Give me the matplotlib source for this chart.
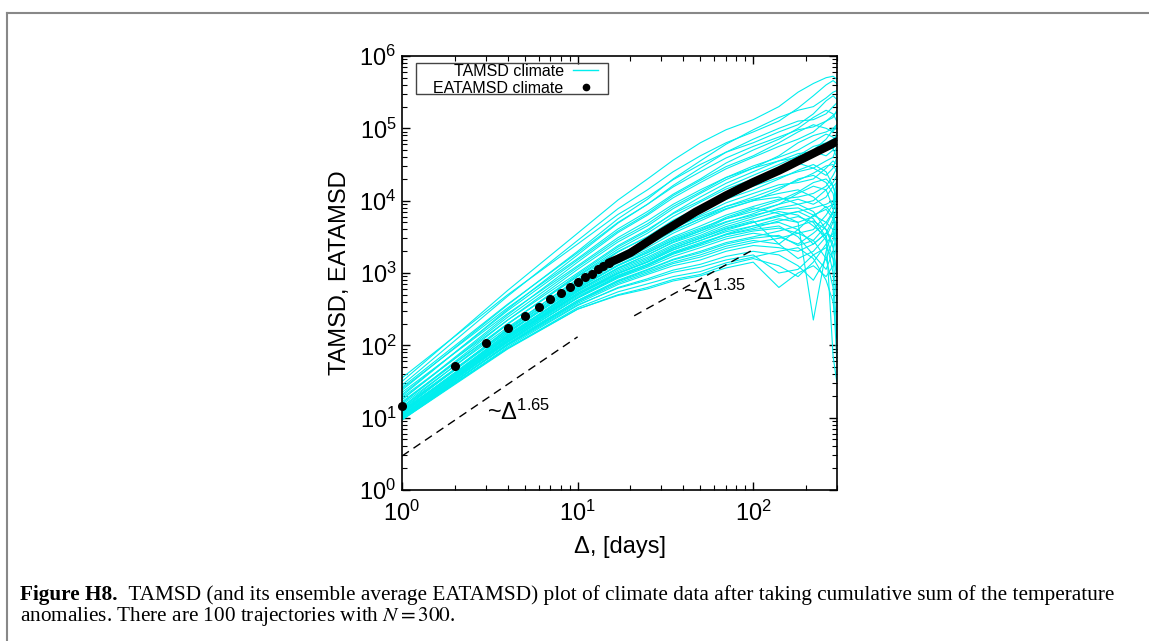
import numpy as np
import matplotlib.pyplot as plt
from matplotlib.lines import Line2D
from matplotlib.patches import Rectangle

plt.rcParams['font.family'] = ['Liberation Sans', 'DejaVu Sans']
plt.rcParams['mathtext.fontset'] = 'custom'
plt.rcParams['mathtext.rm'] = 'Liberation Sans'
plt.rcParams['mathtext.it'] = 'Liberation Sans:italic'
plt.rcParams['mathtext.bf'] = 'Liberation Sans:bold'

tamsd_lags = [1, 4, 10, 17, 25, 35, 50, 70, 100, 140, 180, 220, 260, 285, 299]
# log10(TAMSD), one row per trajectory
tamsd_log10 = [
    [1.50, 2.76, 3.55, 4.01, 4.30, 4.56, 4.80, 4.98, 5.12, 5.30, 5.50, 5.62, 5.70, 5.72, 5.68],
    [1.45, 2.68, 3.45, 3.89, 4.15, 4.40, 4.62, 4.80, 4.95, 5.10, 5.28, 5.45, 5.60, 5.66, 5.62],
    [1.38, 2.56, 3.30, 3.75, 4.02, 4.30, 4.55, 4.78, 4.98, 5.15, 5.25, 5.30, 5.42, 5.50, 5.52],
    [1.55, 2.70, 3.40, 3.81, 4.05, 4.29, 4.50, 4.67, 4.80, 4.95, 5.05, 5.20, 5.38, 5.45, 5.40],
    [1.30, 2.50, 3.25, 3.69, 3.95, 4.21, 4.45, 4.67, 4.85, 5.00, 5.10, 5.12, 5.20, 5.30, 5.35],
    [1.40, 2.52, 3.20, 3.61, 3.85, 4.09, 4.30, 4.52, 4.70, 4.85, 5.00, 5.15, 5.25, 5.20, 5.10],
    [1.25, 2.42, 3.15, 3.56, 3.80, 4.04, 4.25, 4.44, 4.60, 4.75, 4.85, 4.95, 5.10, 5.18, 5.22],
    [1.35, 2.44, 3.10, 3.49, 3.72, 3.95, 4.15, 4.32, 4.45, 4.62, 4.80, 4.90, 4.95, 5.00, 5.05],
    [1.20, 2.35, 3.05, 3.43, 3.65, 3.89, 4.10, 4.29, 4.45, 4.55, 4.60, 4.70, 4.85, 4.98, 5.00],
    [1.28, 2.35, 3.00, 3.38, 3.60, 3.82, 4.00, 4.19, 4.35, 4.50, 4.62, 4.75, 4.80, 4.85, 4.90],
    [1.15, 2.29, 2.98, 3.36, 3.58, 3.83, 4.05, 4.24, 4.40, 4.55, 4.65, 4.68, 4.62, 4.70, 4.95],
    [1.22, 2.30, 2.95, 3.30, 3.50, 3.73, 3.92, 4.10, 4.25, 4.40, 4.55, 4.68, 4.75, 4.72, 4.60],
    [1.10, 2.23, 2.92, 3.29, 3.50, 3.72, 3.90, 4.07, 4.20, 4.32, 4.40, 4.45, 4.55, 4.60, 4.75],
    [1.18, 2.25, 2.90, 3.25, 3.45, 3.67, 3.85, 4.02, 4.15, 4.30, 4.42, 4.50, 4.40, 4.20, 4.00],
    [1.05, 2.17, 2.85, 3.20, 3.40, 3.62, 3.80, 3.97, 4.10, 4.22, 4.25, 4.30, 4.45, 4.55, 4.50],
    [1.12, 2.22, 2.88, 3.22, 3.42, 3.62, 3.78, 3.92, 4.02, 4.10, 4.15, 4.05, 3.90, 3.95, 4.30],
    [1.00, 2.12, 2.80, 3.15, 3.35, 3.55, 3.72, 3.88, 4.00, 4.15, 4.30, 4.35, 4.25, 4.10, 3.80],
    [1.08, 2.17, 2.82, 3.14, 3.32, 3.50, 3.65, 3.80, 3.92, 4.02, 4.05, 4.10, 4.20, 4.35, 4.45],
    [1.02, 2.13, 2.78, 3.11, 3.30, 3.48, 3.62, 3.75, 3.85, 3.95, 4.10, 4.20, 4.15, 3.90, 3.50],
    [1.15, 2.19, 2.80, 3.11, 3.28, 3.45, 3.58, 3.71, 3.80, 3.88, 3.90, 3.80, 3.70, 3.85, 4.10],
    [0.98, 2.09, 2.75, 3.07, 3.25, 3.42, 3.55, 3.70, 3.82, 3.95, 4.02, 3.95, 4.05, 4.20, 4.25],
    [1.06, 2.12, 2.74, 3.04, 3.20, 3.37, 3.50, 3.64, 3.75, 3.85, 3.80, 3.65, 3.50, 3.20, 2.60],
    [1.03, 2.09, 2.72, 3.02, 3.18, 3.35, 3.48, 3.61, 3.70, 3.78, 3.85, 3.90, 3.95, 4.00, 4.05],
    [0.99, 2.07, 2.70, 2.99, 3.15, 3.32, 3.45, 3.57, 3.65, 3.70, 3.60, 3.40, 3.55, 3.75, 3.90],
    [1.10, 2.11, 2.70, 2.97, 3.12, 3.28, 3.40, 3.53, 3.62, 3.72, 3.78, 3.70, 3.45, 3.00, 2.20],
    [1.00, 2.05, 2.66, 2.94, 3.10, 3.26, 3.38, 3.50, 3.58, 3.62, 3.55, 3.60, 3.80, 3.95, 4.15],
    [1.04, 2.06, 2.65, 2.93, 3.08, 3.23, 3.35, 3.47, 3.55, 3.50, 3.40, 3.55, 3.70, 3.60, 3.30],
    [0.97, 2.02, 2.62, 2.90, 3.05, 3.19, 3.30, 3.42, 3.50, 3.58, 3.65, 3.72, 3.60, 3.40, 3.00],
    [1.02, 2.04, 2.62, 2.88, 3.02, 3.15, 3.25, 3.37, 3.45, 3.40, 3.20, 3.30, 3.50, 3.70, 3.85],
    [0.98, 2.01, 2.60, 2.86, 3.00, 3.13, 3.22, 3.34, 3.42, 3.48, 3.55, 3.45, 3.20, 2.80, 1.80],
    [1.00, 2.01, 2.58, 2.84, 2.98, 3.10, 3.18, 3.30, 3.38, 3.35, 3.30, 3.40, 3.55, 3.50, 3.60],
    [0.97, 1.98, 2.55, 2.80, 2.92, 3.04, 3.12, 3.23, 3.30, 3.25, 3.10, 2.90, 3.20, 3.45, 3.70],
    [1.01, 2.00, 2.56, 2.79, 2.90, 3.01, 3.08, 3.18, 3.25, 3.00, 3.05, 3.25, 3.35, 3.20, 3.00],
    [0.98, 1.96, 2.52, 2.74, 2.85, 2.95, 3.02, 3.14, 3.22, 3.30, 3.35, 3.20, 2.90, 2.60, 2.10],
    [1.00, 1.96, 2.50, 2.70, 2.80, 2.91, 2.98, 3.11, 3.20, 3.10, 2.95, 3.15, 3.40, 3.55, 3.50],
    [0.97, 1.95, 2.50, 2.69, 2.78, 2.89, 2.96, 3.07, 3.15, 2.80, 3.00, 3.10, 2.95, 3.10, 3.40],
    [1.08, 2.14, 2.76, 3.06, 3.22, 3.39, 3.52, 3.67, 3.78, 3.90, 3.95, 3.85, 3.60, 3.35, 2.95],
    [1.12, 2.19, 2.84, 3.18, 3.38, 3.58, 3.75, 3.92, 4.05, 4.18, 4.28, 4.38, 4.48, 4.50, 4.40],
    [1.03, 2.07, 2.68, 2.95, 3.10, 3.27, 3.40, 3.54, 3.65, 3.75, 3.70, 2.35, 3.30, 3.60, 3.75],
    [1.06, 2.11, 2.72, 3.00, 3.15, 3.32, 3.45, 3.59, 3.70, 3.80, 3.85, 3.75, 3.50, 1.85, 1.50],
    [1.25, 2.39, 3.08, 3.46, 3.68, 3.92, 4.12, 4.32, 4.48, 4.60, 4.70, 4.82, 4.92, 4.88, 4.75],
    [1.32, 2.48, 3.18, 3.58, 3.82, 4.07, 4.28, 4.47, 4.62, 4.80, 4.95, 5.05, 5.00, 4.95, 5.05],
    [1.14, 2.21, 2.86, 3.20, 3.40, 3.59, 3.75, 3.89, 4.00, 4.05, 3.95, 4.00, 4.15, 4.25, 4.35],
    [1.07, 2.13, 2.76, 3.07, 3.25, 3.43, 3.58, 3.75, 3.88, 4.00, 4.12, 4.25, 4.30, 4.20, 4.05],
    [1.01, 2.05, 2.66, 2.96, 3.12, 3.29, 3.42, 3.53, 3.60, 3.65, 3.50, 3.25, 3.05, 3.30, 3.55],
    [1.09, 2.15, 2.78, 3.10, 3.28, 3.46, 3.60, 3.77, 3.90, 3.82, 3.70, 3.78, 3.92, 3.80, 3.60],
    [1.42, 2.57, 3.28, 3.70, 3.95, 4.19, 4.40, 4.59, 4.75, 4.88, 4.98, 5.02, 5.10, 5.15, 5.25],
    [0.99, 2.02, 2.60, 2.89, 3.04, 3.18, 3.28, 3.40, 3.48, 3.52, 3.38, 3.45, 3.65, 3.85, 4.00],
    [1.05, 2.09, 2.70, 3.00, 3.16, 3.34, 3.48, 3.62, 3.72, 3.40, 3.60, 3.80, 3.88, 3.75, 3.45],
    [1.20, 2.30, 2.96, 3.33, 3.55, 3.78, 3.98, 4.16, 4.30, 4.45, 4.52, 4.45, 4.35, 4.45, 4.60],
]

# ensemble average
eatamsd_lags = [1, 2, 3, 4, 5, 6, 7, 8, 9, 10, 11, 12, 13, 14, 15, 17, 20, 25, 30, 38, 47,
                58, 70, 85, 100, 120, 140, 160, 185, 210, 240, 270, 300]
eatamsd = [14.7, 52, 108, 176, 253, 338, 434, 536, 650, 755, 870, 980, 1120, 1260, 1380,
           1570, 1900, 2700, 3600, 5100, 7000, 9200, 11800, 14900, 18000, 22000, 26000,
           30500, 36500, 42500, 50000, 57500, 66000]

# guide lines
guide1_x = [1, 10]
guide1_y = [2.95, 131]
guide2_x = [21, 100]
guide2_y = [256, 2100]

fig = plt.figure(figsize=(11.49, 6.41), dpi=100)
ax = fig.add_axes([402/1149, 1-490/641, 435/1149, 434/641])

for row in tamsd_log10:
    ax.plot(tamsd_lags, 10**np.array(row), color='#00eeee', lw=0.8)
ax.plot(guide1_x, guide1_y, color='k', lw=1, dashes=(6, 4))
ax.plot(guide2_x, guide2_y, color='k', lw=1, dashes=(6, 4))
ax.plot(eatamsd_lags[14:], eatamsd[14:], color='k', lw=6, solid_capstyle='round')
ax.plot(eatamsd_lags[:15], eatamsd[:15], 'o', color='k', ms=5.5, clip_on=False)

ax.set_xscale('log')
ax.set_yscale('log')
ax.set_xlim(1, 300)
ax.set_ylim(1, 1e6)
ax.tick_params(which='both', direction='in', top=True, right=True, labelsize=17)
ax.tick_params(which='major', length=6, width=1)
ax.tick_params(which='minor', length=3.5, width=0.8)
ax.tick_params(axis='x', which='both', pad=8)
ax.tick_params(axis='y', which='both', pad=4)
for s in ax.spines.values():
    s.set_linewidth(1.2)
ax.set_xlabel('Δ, [days]', fontsize=17, labelpad=7)
ax.set_ylabel('TAMSD, EATAMSD', fontsize=17, labelpad=6)

ax.text(10**0.484, 10**0.97, '~$\\Delta^{1.65}$', fontsize=17)
ax.text(10**1.6, 10**2.63, '~$\\Delta^{1.35}$', fontsize=17)

# legend (gnuplot style: text right aligned, sample after it)
h1 = Line2D([], [], color='#00eeee', lw=1)
h2 = Line2D([], [], color='k', marker='o', ls='none', ms=4.5)
ax.legend([h1, h2], ['TAMSD climate', 'EATAMSD climate'], loc='upper right',
          bbox_to_anchor=((598-402)/435, 1-(64-56)/434), borderaxespad=0,
          markerfirst=False, frameon=False, fontsize=11.5,
          handlelength=1.55, handletextpad=0.6, borderpad=0,
          labelspacing=0.1)
ax.add_patch(Rectangle(((416-402)/435, 1-(94-56)/434), (608-416)/435, (94-63)/434,
                       transform=ax.transAxes, fill=False, edgecolor='#444444', lw=1,
                       zorder=5))

# page frame
fig.add_artist(Line2D([7/1149, 1], [1-13/641, 1-13/641], transform=fig.transFigure,
                      color='#888888', lw=1.5))
fig.add_artist(Line2D([7/1149, 7/1149], [0, 1-13/641], transform=fig.transFigure,
                      color='#888888', lw=1.5))

# caption
cap = dict(family='Liberation Serif', fontsize=15.3)
t1 = fig.text(20/1149, 1-600/641, 'Figure H8.', weight='bold', va='baseline', **cap)
ax.annotate('  TAMSD (and its ensemble average EATAMSD) plot of climate data after taking '
            'cumulative sum of the temperature', xy=(1, 0), xycoords=t1, va='bottom',
            annotation_clip=False, **cap)
fig.text(20/1149, 1-621/641, 'anomalies. There are 100 trajectories with $N=300$.',
         va='baseline', math_fontfamily='stix', **cap)

fig.savefig('out.png', dpi=100)
